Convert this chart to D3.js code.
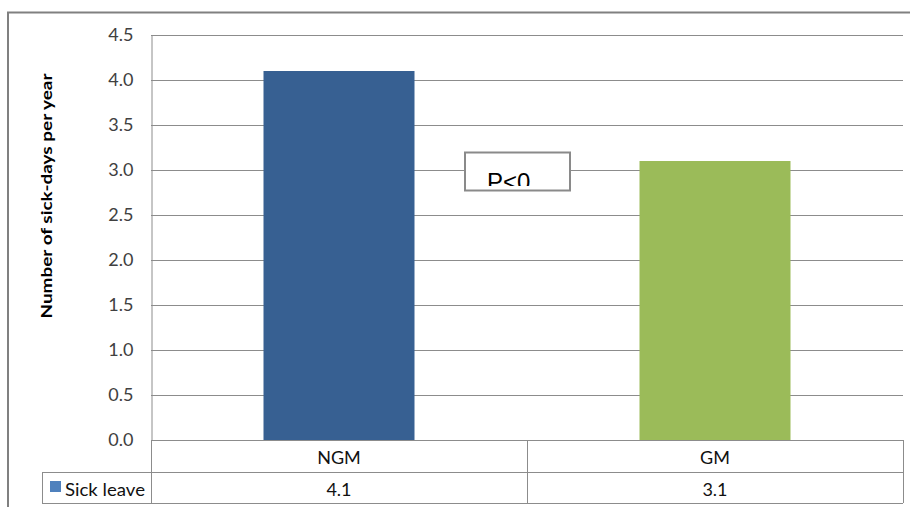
<!DOCTYPE html>
<html>
<head>
<meta charset="utf-8">
<script src="https://cdn.jsdelivr.net/npm/d3@7"></script>
<style>
  html, body { margin: 0; padding: 0; background: #fff; }
  svg { display: block; }
  text { font-family: Lato, "Open Sans", sans-serif; }
</style>
</head>
<body>
<svg id="chart" width="910" height="507"></svg>
<script>
// Sick leave by group
const categories = ["NGM", "GM"];
const seriesName = "Sick leave";
const sickDays = [4.1, 3.1];
const yTicks = [0, 0.5, 1.0, 1.5, 2.0, 2.5, 3.0, 3.5, 4.0, 4.5];
const barColors = ["#376092", "#9BBB59"];
const legendColor = "#4F81BD";
const yTitle = "Number of sick-days per year";
const pNote = "P<0";

const svg = d3.select("#chart");
const W = 910, H = 507;
const plot = { left: 151, right: 903, top: 35, bottom: 440 };
const gridColor = "#8c8c8c";
const textColor = "#404040";
const fs = "18px";

// outer chart frame (only top and left edges fall inside the view)
svg.append("path")
  .attr("d", `M8,${H} L8,12.5 L${W},12.5`)
  .attr("fill", "none").attr("stroke", "#808080").attr("stroke-width", 2);

const x = d3.scaleBand().domain(categories).range([plot.left, plot.right]).paddingInner(0).paddingOuter(0);
const y = d3.scaleLinear().domain([0, 4.5]).range([plot.bottom, plot.top]);

// horizontal gridlines
svg.append("g").selectAll("line").data(yTicks).join("line")
  .attr("x1", plot.left).attr("x2", plot.right)
  .attr("y1", d => Math.round(y(d)) + 0.5).attr("y2", d => Math.round(y(d)) + 0.5)
  .attr("stroke", gridColor).attr("stroke-width", 1);

// y axis with labels
const yAxis = d3.axisLeft(y).tickValues(yTicks).tickFormat(d3.format(".1f")).tickSize(0).tickPadding(18);
const gy = svg.append("g").attr("transform", `translate(${plot.left + 0.5},0)`).call(yAxis);
gy.select(".domain").attr("stroke", gridColor);
gy.selectAll("text").attr("fill", textColor).style("font-size", fs)
  .style("font-family", "Lato, 'Open Sans', sans-serif");

// bars
const barW = 151;
svg.append("g").selectAll("rect").data(sickDays).join("rect")
  .attr("x", (d, i) => x(categories[i]) + x.bandwidth() / 2 - barW / 2)
  .attr("width", barW)
  .attr("y", d => y(d))
  .attr("height", d => y(0) - y(d))
  .attr("fill", (d, i) => barColors[i]);

// data table under the plot
const row1 = { top: plot.bottom, bottom: 472 };
const row2 = { top: 472, bottom: 503 };
const tableLeft = 42;
const tg = svg.append("g").attr("stroke", gridColor).attr("stroke-width", 1).attr("fill", "none");
tg.append("line").attr("x1", plot.left).attr("x2", plot.right).attr("y1", row1.top + 0.5).attr("y2", row1.top + 0.5);
tg.append("line").attr("x1", tableLeft).attr("x2", plot.right).attr("y1", row2.top + 0.5).attr("y2", row2.top + 0.5);
tg.append("line").attr("x1", tableLeft).attr("x2", plot.right).attr("y1", row2.bottom + 0.5).attr("y2", row2.bottom + 0.5);
tg.append("line").attr("x1", tableLeft + 0.5).attr("x2", tableLeft + 0.5).attr("y1", row2.top).attr("y2", row2.bottom);
tg.append("line").attr("x1", plot.left + 0.5).attr("x2", plot.left + 0.5).attr("y1", plot.bottom).attr("y2", row2.bottom);
tg.selectAll("line.sep").data(categories).join("line").attr("class", "sep")
  .attr("x1", d => Math.round(x(d) + x.bandwidth()) + 0.5)
  .attr("x2", d => Math.round(x(d) + x.bandwidth()) + 0.5)
  .attr("y1", row1.top).attr("y2", row2.bottom);

svg.append("g").selectAll("text").data(categories).join("text")
  .attr("x", d => x(d) + x.bandwidth() / 2).attr("y", 464)
  .attr("text-anchor", "middle").attr("fill", "#111").style("font-size", fs)
  .text(d => d);

svg.append("g").selectAll("text").data(sickDays).join("text")
  .attr("x", (d, i) => x(categories[i]) + x.bandwidth() / 2).attr("y", 496)
  .attr("text-anchor", "middle").attr("fill", "#111").style("font-size", fs)
  .text(d => d3.format(".1f")(d));

// legend key in the table
svg.append("rect").attr("x", 50).attr("y", 481).attr("width", 11).attr("height", 11).attr("fill", legendColor);
svg.append("text").attr("x", 65).attr("y", 496).attr("fill", "#111").style("font-size", fs)
  .attr("textLength", 80).attr("lengthAdjust", "spacingAndGlyphs")
  .text(seriesName);

// y axis title
svg.append("text")
  .attr("transform", `translate(52,196) rotate(-90)`)
  .attr("text-anchor", "middle").attr("fill", "#000")
  .style("font-size", "16px").style("font-weight", "bold")
  .attr("textLength", 245).attr("lengthAdjust", "spacingAndGlyphs")
  .text(yTitle);

// significance note box
const box = { x: 465, y: 152.5, w: 105, h: 38 };
svg.append("defs").append("clipPath").attr("id", "noteClip")
  .append("rect").attr("x", box.x + 3).attr("y", box.y + 3).attr("width", box.w - 6).attr("height", 30.5);
svg.append("rect").attr("x", box.x).attr("y", box.y).attr("width", box.w).attr("height", box.h)
  .attr("fill", "#fff").attr("stroke", "#8a8a8a").attr("stroke-width", 2);
svg.append("text").attr("x", 487).attr("y", 190).attr("clip-path", "url(#noteClip)")
  .attr("fill", "#000").style("font-size", "24px")
  .style("font-family", "'Liberation Sans', Arial, sans-serif")
  .text(pNote);
</script>
</body>
</html>
